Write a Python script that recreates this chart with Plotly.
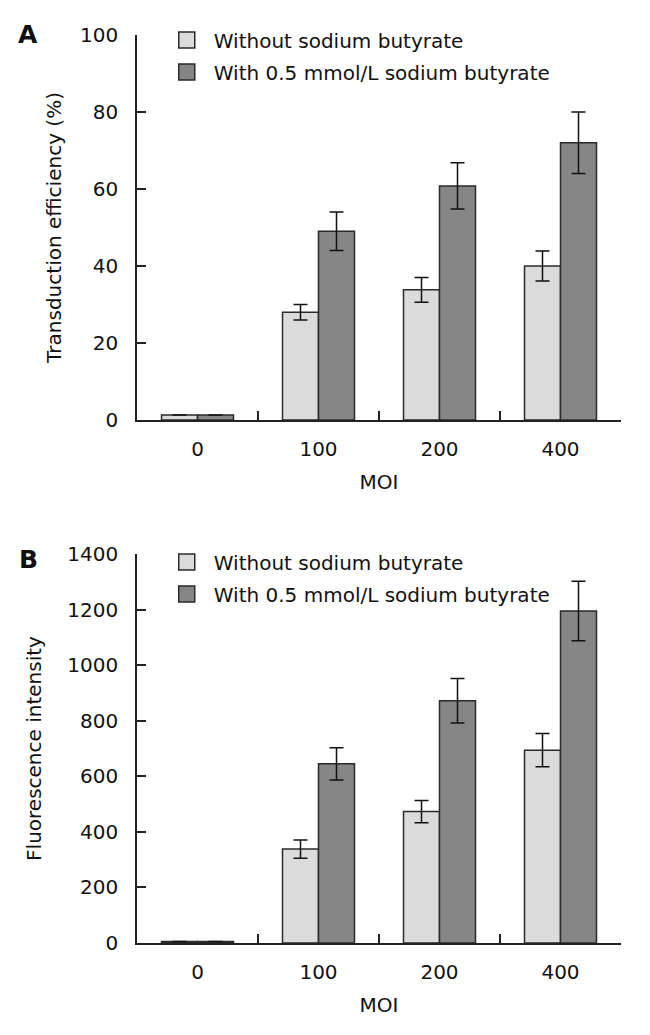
import plotly.graph_objects as go
from plotly.subplots import make_subplots

categories = ["0", "100", "200", "400"]
series_names = ["Without sodium butyrate", "With 0.5 mmol/L sodium butyrate"]

a_without = [1.3, 28.0, 33.8, 40.0]
a_without_err = [None, 2.0, 3.2, 3.9]
a_with = [1.3, 49.0, 60.8, 72.0]
a_with_err = [None, 5.0, 6.0, 8.0]

b_without = [5, 338, 473, 694]
b_without_err = [None, 33, 40, 60]
b_with = [5, 645, 872, 1195]
b_with_err = [None, 58, 80, 107]

light = "#dbdbdb"
dark = "#868686"
edge = "#2a2a2a"
FONT = "DejaVu Sans"

W, H = 650, 1035
ML, MR, MT, MB = 129, 37, 27, 100
PW, PH = W - ML - MR, H - MT - MB

fig = make_subplots(rows=2, cols=1, shared_xaxes=False)

def add_panel(row, vals_light, err_light, vals_dark, err_dark, legend):
    for vals, err, col in ((vals_light, err_light, light), (vals_dark, err_dark, dark)):
        fig.add_trace(go.Bar(
            x=categories, y=vals,
            marker=dict(color=col, line=dict(color=edge, width=1.5)),
            error_y=dict(type="data", array=err, visible=True, color="#111",
                         thickness=1.5, width=7),
            showlegend=False,
        ), row=row, col=1)
    for i, (name, col) in enumerate(zip(series_names, (light, dark))):
        fig.add_trace(go.Scatter(
            x=[None], y=[None], mode="markers", name=name,
            marker=dict(symbol="square", size=16, color=col,
                        line=dict(color=edge, width=1.5)),
            legend=legend, legendgroup=f"{legend}_{i}", showlegend=True,
        ), row=row, col=1)

add_panel(1, a_without, a_without_err, a_with, a_with_err, "legend")
add_panel(2, b_without, b_without_err, b_with, b_with_err, "legend2")

axis_common = dict(showline=True, linecolor="#222", linewidth=1.5,
                   ticks="inside", ticklen=9, tickwidth=1.5, tickcolor="#222",
                   showgrid=False, zeroline=False,
                   tickfont=dict(family=FONT, size=20, color="#111"))

for r in (1, 2):
    fig.update_xaxes(type="category", tickson="boundaries", range=[-0.5, 3.5],
                     title=dict(text="MOI", font=dict(family=FONT, size=20, color="#111"),
                                standoff=15),
                     ticklabelstandoff=10,
                     row=r, col=1, **axis_common)

fig.update_yaxes(range=[0, 100], dtick=20, row=1, col=1,
                 domain=[(PH - (412 - MT)) / PH, 1.0],
                 title=dict(text="Transduction efficiency (%)",
                            font=dict(family=FONT, size=20, color="#111"), standoff=13),
                 ticklabelstandoff=13, **axis_common)
fig.update_yaxes(range=[0, 1400], dtick=200, row=2, col=1,
                 domain=[0.0, (PH - (546 - MT)) / PH],
                 title=dict(text="Fluorescence intensity",
                            font=dict(family=FONT, size=20, color="#111"), standoff=20),
                 ticklabelstandoff=13, **axis_common)

def py2paper(py):
    return (H - MB - py) / PH

def px2paper(px):
    return (px - ML) / PW

leg_common = dict(xanchor="left", yanchor="top", bgcolor="rgba(0,0,0,0)",
                  font=dict(family=FONT, size=20, color="#111"),
                  itemsizing="trace", itemwidth=44, tracegroupgap=3)

fig.update_layout(
    width=W, height=H,
    margin=dict(l=ML, r=MR, t=MT, b=MB),
    paper_bgcolor="white", plot_bgcolor="white",
    barmode="group", bargap=0.405, bargroupgap=0,
    font=dict(family=FONT, size=20, color="#111"),
    legend=dict(x=px2paper(151.75), y=py2paper(12.5), **leg_common),
    legend2=dict(x=px2paper(151.75), y=py2paper(534.5), **leg_common),
    annotations=[
        dict(text="<b>A</b>", x=px2paper(8), y=py2paper(10), xref="paper", yref="paper",
             xanchor="left", yanchor="top", showarrow=False,
             font=dict(family=FONT, size=25, color="#111")),
        dict(text="<b>B</b>", x=px2paper(9), y=py2paper(535), xref="paper", yref="paper",
             xanchor="left", yanchor="top", showarrow=False,
             font=dict(family=FONT, size=25, color="#111")),
    ],
)

fig.write_html("out.html")
